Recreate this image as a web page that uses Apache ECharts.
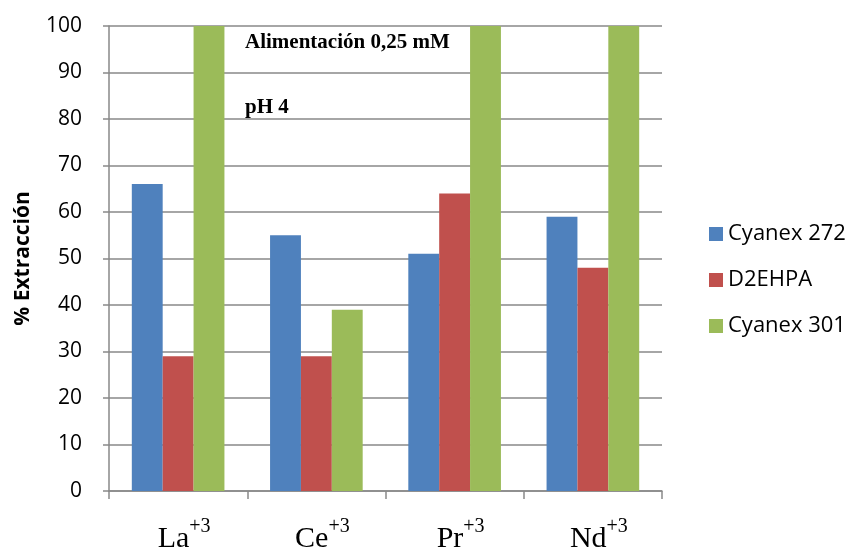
<!DOCTYPE html>
<html>
<head>
	<meta charset="utf-8">
	<title>% Extracción</title>
	<script src="https://cdn.jsdelivr.net/npm/echarts@6/dist/echarts.min.js"></script>
	<style>
		body { margin: 0; background: #fff; }
		#main { width: 851px; height: 550px; }
	</style>
</head>
<body>
<div id="main"></div>
<script>
	// datos
	var elementos = ['La', 'Ce', 'Pr', 'Nd'];
	var cargas = ['+3', '+3', '+3', '+3'];
	var cyanex272 = [66, 55, 51, 59];
	var d2ehpa = [29, 29, 64, 48];
	var cyanex301 = [100, 39, 100, 100];
	var nombres = ['Cyanex 272', 'D2EHPA', 'Cyanex 301'];
	var colores = ['#4F81BD', '#C0504D', '#9BBB59'];

	var categorias = elementos.map(function (e, i) { return e + '|' + cargas[i]; });

	var myChart = echarts.init(document.getElementById('main'));
	var gris = '#898989';

	function serie(nombre, datos, color) {
		return {
			name: nombre,
			type: 'bar',
			data: datos,
			barGap: '0%',
			barCategoryGap: '33%',
			itemStyle: { color: color },
			emphasis: { disabled: true }
		};
	}

	var option = {
		animation: false,
		grid: { left: 109, right: 189, top: 26, bottom: 59, outerBoundsMode: 'none', containLabel: false },
		legend: {
			orient: 'vertical',
			left: 704,
			top: 218,
			itemWidth: 14,
			itemHeight: 14,
			itemGap: 24,
			icon: 'rect',
			textStyle: { fontFamily: 'Open Sans', fontSize: 22, color: '#000' },
			data: nombres
		},
		xAxis: {
			type: 'category',
			data: categorias,
			axisLine: { lineStyle: { color: gris, width: 1.5 } },
			axisTick: { show: true, length: 8, lineStyle: { color: gris, width: 1.5 } },
			axisLabel: {
				margin: 26,
				formatter: function (v) {
					var p = v.split('|');
					return '{b|' + p[0] + '}{s|' + p[1] + '}';
				},
				rich: {
					b: { fontFamily: 'Liberation Serif', fontSize: 30, color: '#000', verticalAlign: 'bottom', padding: [0, 0, 0, 12] },
					s: { fontFamily: 'Liberation Serif', fontSize: 20, color: '#000', verticalAlign: 'bottom', padding: [0, 0, 17, 0] }
				}
			}
		},
		yAxis: {
			type: 'value',
			min: 0,
			max: 100,
			interval: 10,
			name: '% Extracción',
			nameLocation: 'middle',
			nameGap: 75,
			nameTextStyle: { fontFamily: 'Open Sans', fontSize: 21, fontWeight: 'bold', color: '#000' },
			axisLine: { show: true, lineStyle: { color: gris, width: 1.5 } },
			axisTick: { show: true, length: 6, lineStyle: { color: gris, width: 1.5 } },
			axisLabel: { margin: 27, fontFamily: 'Open Sans', fontSize: 21, color: '#000' },
			splitLine: { lineStyle: { color: gris, width: 1.5 } }
		},
		graphic: [
			{
				type: 'text', left: 245, top: 32,
				style: { text: 'Alimentación 0,25 mM', font: 'bold 21px "Liberation Serif"', fill: '#000' }
			},
			{
				type: 'text', left: 245, top: 97,
				style: { text: 'pH 4', font: 'bold 21px "Liberation Serif"', fill: '#000' }
			}
		],
		series: [
			serie(nombres[0], cyanex272, colores[0]),
			serie(nombres[1], d2ehpa, colores[1]),
			serie(nombres[2], cyanex301, colores[2])
		]
	};
	myChart.setOption(option);
</script>
</body>
</html>
